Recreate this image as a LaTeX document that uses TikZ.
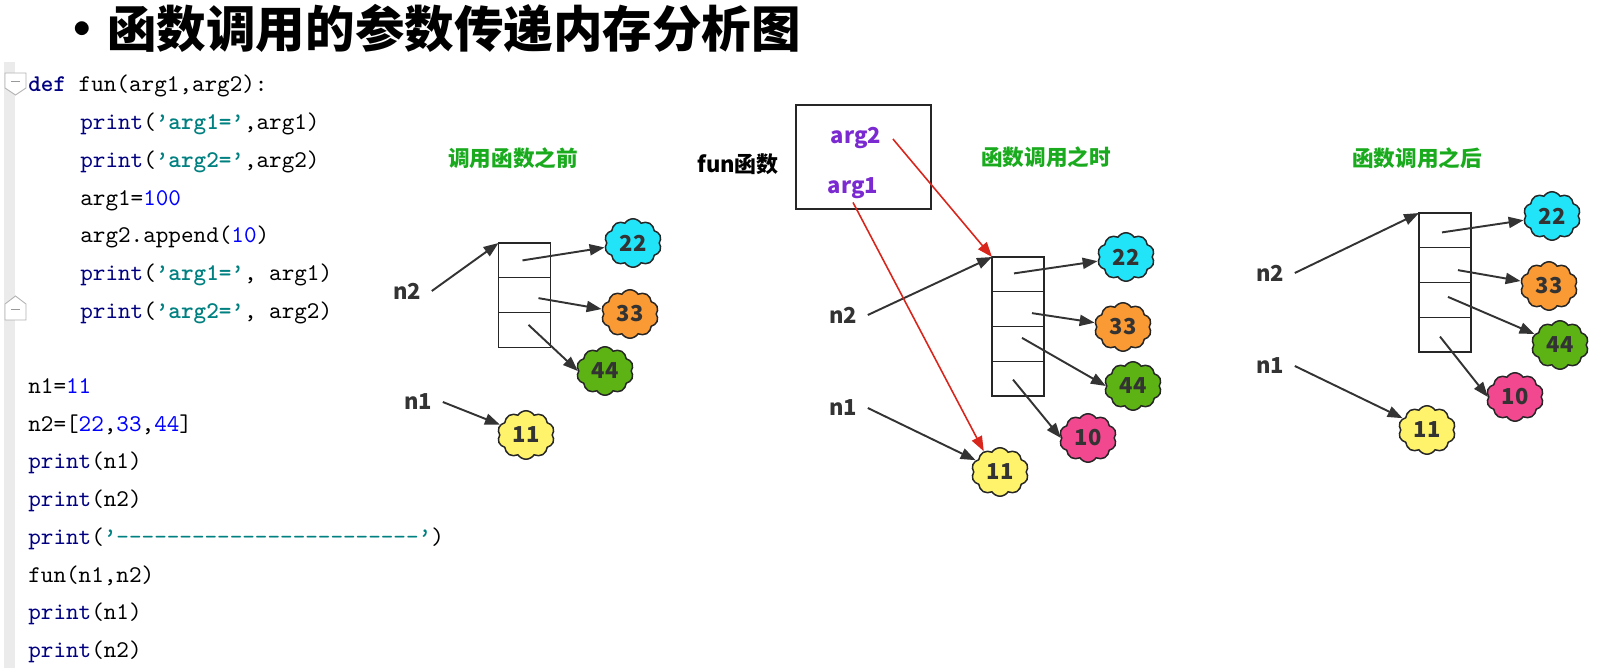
\documentclass[tikz,border=0pt]{standalone}
\usepackage{fontspec}
\setmonofont{lmmono10-regular.otf}[BoldFont=lmmonolt10-bold.otf]
\newfontfamily\cjk{Noto Sans CJK SC}
\usetikzlibrary{positioning,shapes.symbols,arrows.meta}

\definecolor{kwnavy}{HTML}{000080}
\definecolor{strteal}{HTML}{008080}
\definecolor{numblue}{HTML}{0000FF}
\definecolor{ttlgreen}{HTML}{1AAA1E}
\definecolor{argpurple}{HTML}{7A2AD0}
\definecolor{callred}{HTML}{D8261C}
\definecolor{inkgray}{HTML}{333333}
\definecolor{cyancl}{HTML}{22E4F8}
\definecolor{orangecl}{HTML}{FA9A34}
\definecolor{greencl}{HTML}{5DB314}
\definecolor{pinkcl}{HTML}{F2488F}
\definecolor{yellowcl}{HTML}{FFF36C}

\newcommand{\pykw}[1]{{\color{kwnavy}#1}}
\newcommand{\pystr}[1]{{\color{strteal}\bfseries #1}}
\newcommand{\pynum}[1]{{\color{numblue}#1}}

\tikzset{
  codeline/.style={anchor=base west, inner sep=0pt, font=\ttfamily\fontsize{13.65}{16}\selectfont},
  varlbl/.style={font=\cjk\bfseries\fontsize{12.5}{15}\selectfont, text=inkgray, inner sep=6pt},
  phase/.style={font=\cjk\bfseries\fontsize{12.3}{15}\selectfont, text=ttlgreen},
  cell/.style={draw=black!85, line width=0.7pt, fill=white, minimum width=1.04cm,
    minimum height=0.695cm, outer sep=0pt, inner sep=0pt},
  blob/.style={cloud, cloud puffs=10, cloud puff arc=115, aspect=1.2, draw=black!85,
    line width=0.85pt, minimum width=1.14cm, minimum height=0.97cm, inner sep=0pt,
    font=\cjk\bfseries\fontsize{12.5}{15}\selectfont, text=inkgray},
  ptr/.style={->, line width=1.1pt, draw=inkgray},
  pass/.style={->, line width=0.9pt, draw=callred},
}

\begin{document}
\begin{tikzpicture}[x=0.02cm, y=-0.02cm, >={Triangle[length=8.5pt,width=6.3pt]}]
    \useasboundingbox (0,0) rectangle (1600,668);

    % editor gutter
    \fill[black!8] (4,62) rectangle (15,668);
    \draw[black!30, fill=white, line width=0.5pt] (5,73) -- (26,73) -- (26,88) -- (15.5,95) -- (5,88) -- cycle;
    \draw[black!40] (11,81) -- (20,81);
    \draw[black!30, fill=white, line width=0.5pt] (5,320) -- (26,320) -- (26,304) -- (15.5,296) -- (5,304) -- cycle;
    \draw[black!40] (11,309) -- (20,309);

    \node[anchor=west, inner sep=0pt, font=\cjk\bfseries\fontsize{28.2}{34}\selectfont] (heading) at (107,29)
        {\makebox[0pt][r]{•\hspace{0pt}}函数调用的参数传递内存分析图};

    % source code
    \node[codeline] (l1) at (28,92) {\pykw{\bfseries def} fun(arg1,arg2):};
    \node[codeline] (l2) at (80,129.7) {\pykw{print}(\pystr{’arg1=’},arg1)};
    \node[codeline] (l3) at (80,167.4) {\pykw{print}(\pystr{’arg2=’},arg2)};
    \node[codeline] (l4) at (80,205.1) {arg1=\pynum{100}};
    \node[codeline] (l5) at (80,242.8) {arg2.append(\pynum{10})};
    \node[codeline] (l6) at (80,280.5) {\pykw{print}(\pystr{’arg1=’}, arg1)};
    \node[codeline] (l7) at (80,318.2) {\pykw{print}(\pystr{’arg2=’}, arg2)};
    \node[codeline] (l8) at (28,393.6) {n1=\pynum{11}};
    \node[codeline] (l9) at (28,431.3) {n2=[\pynum{22},\pynum{33},\pynum{44}]};
    \node[codeline] (l10) at (28,469) {\pykw{print}(n1)};
    \node[codeline] (l11) at (28,506.7) {\pykw{print}(n2)};
    \node[codeline] (l12) at (28,544.4) {\pykw{print}(\pystr{’}{\color{strteal}------------------------}\pystr{’})};
    \node[codeline] (l13) at (28,582.1) {fun(n1,n2)};
    \node[codeline] (l14) at (28,619.8) {\pykw{print}(n1)};
    \node[codeline] (l15) at (28,657.5) {\pykw{print}(n2)};

    % before the call
    \node[phase] (ph1) at (513,158) {调用函数之前};
    \node[cell] (m1a) at (524.5,260.4) {};
    \node[cell, below=0pt of m1a] (m1b) {};
    \node[cell, below=0pt of m1b] (m1c) {};
    \node[varlbl] (n2a) at (407,291) {n2};
    \node[varlbl] (n1a) at (418,402) {n1};
    \node[blob, fill=cyancl] (c22a) at (633,243) {22};
    \node[blob, fill=orangecl] (c33a) at (630,314) {33};
    \node[blob, fill=greencl] (c44a) at (605,371) {44};
    \node[blob, fill=yellowcl] (c11a) at (526,435) {11};
    \draw[ptr] (n2a.east) -- (m1a.north west);
    \draw[ptr] (n1a.east) -- (c11a);
    \draw[ptr] ([shift={(-2,0)}]m1a.center) -- (c22a);
    \draw[ptr] ([shift={(14,3)}]m1b.center) -- (c33a);
    \draw[ptr] ([shift={(4,-5)}]m1c.center) -- (c44a.west);

    % during the call
    \node[varlbl, text=black] (funlbl) at (738,164) {fun函数};
    \node[draw=black!85, line width=0.7pt, minimum width=2.7cm, minimum height=2.08cm] (funbox) at (863.5,157) {};
    \node[varlbl, text=argpurple, inner sep=2pt] (arg2) at (856,138) {arg2};
    \node[varlbl, text=argpurple, inner sep=2pt] (arg1) at (853,188) {arg1};
    \node[phase] (ph2) at (1046,157) {函数调用之时};
    \node[cell] (m2a) at (1018,274.4) {};
    \node[cell, below=0pt of m2a] (m2b) {};
    \node[cell, below=0pt of m2b] (m2c) {};
    \node[cell, below=0pt of m2c] (m2d) {};
    \node[varlbl] (n2b) at (843,315) {n2};
    \node[varlbl] (n1b) at (843,408) {n1};
    \node[blob, fill=cyancl] (c22b) at (1126,257) {22};
    \node[blob, fill=orangecl] (c33b) at (1123,327) {33};
    \node[blob, fill=greencl] (c44b) at (1133,386) {44};
    \node[blob, fill=pinkcl] (c10b) at (1088,438) {10};
    \node[blob, fill=yellowcl] (c11b) at (1000,472) {11};
    \draw[ptr] (n2b.east) -- (m2a.north west);
    \draw[ptr] (n1b.east) -- (c11b);
    \draw[ptr] ([shift={(-4,-1)}]m2a.center) -- (c22b);
    \draw[ptr] ([shift={(14,4)}]m2b.center) -- (c33b);
    \draw[ptr] ([shift={(4,-6)}]m2c.center) -- (c44b.west);
    \draw[ptr] ([shift={(-5,1)}]m2d.center) -- (c10b.west);
    \draw[pass] ([shift={(8,1)}]arg2.east) -- (m2a.north west);
    \draw[pass] (arg1.south) -- (c11b.128);

    % after the call
    \node[phase] (ph3) at (1417,158) {函数调用之后};
    \node[cell] (m3a) at (1445,230.4) {};
    \node[cell, below=0pt of m3a] (m3b) {};
    \node[cell, below=0pt of m3b] (m3c) {};
    \node[cell, below=0pt of m3c] (m3d) {};
    \node[varlbl] (n2c) at (1270,273) {n2};
    \node[varlbl] (n1c) at (1270,366) {n1};
    \node[blob, fill=cyancl] (c22c) at (1552,216) {22};
    \node[blob, fill=orangecl] (c33c) at (1549,286) {33};
    \node[blob, fill=greencl] (c44c) at (1560,345) {44};
    \node[blob, fill=pinkcl] (c10c) at (1515,397) {10};
    \node[blob, fill=yellowcl] (c11c) at (1427,430) {11};
    \draw[ptr] (n2c.east) -- (m3a.north west);
    \draw[ptr] (n1c.east) -- (c11c);
    \draw[ptr] ([shift={(-3,2)}]m3a.center) -- (c22c);
    \draw[ptr] ([shift={(13,5)}]m3b.center) -- (c33c);
    \draw[ptr] ([shift={(3,-3)}]m3c.center) -- (c44c);
    \draw[ptr] ([shift={(-5,2)}]m3d.center) -- (c10c.west);
\end{tikzpicture}
\end{document}
